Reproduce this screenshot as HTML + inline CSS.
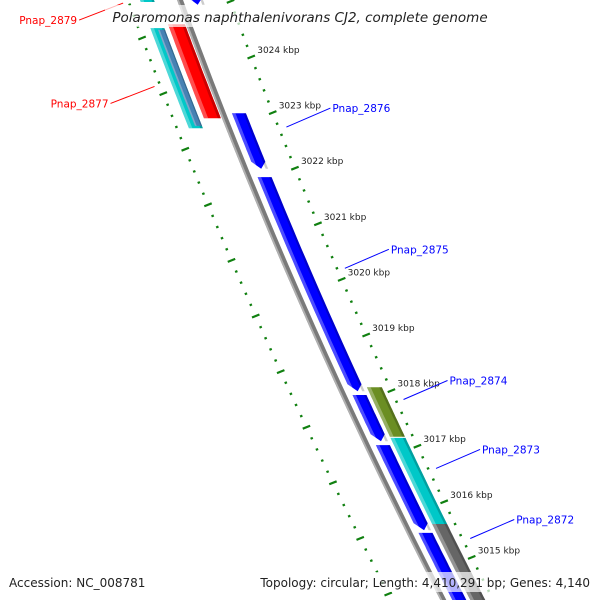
<!DOCTYPE html>
<html><head><meta charset="utf-8"><style>
html,body{margin:0;padding:0;background:#fff;width:600px;height:600px;overflow:hidden}
svg{display:block}
text{font-family:"DejaVu Sans","Liberation Sans",sans-serif}
</style></head><body>
<svg id="map" width="600" height="600" viewBox="0 0 600 600" xmlns="http://www.w3.org/2000/svg">
<g id="ticks"></g>
<g id="backbone"></g>
<g id="genes"></g>
<g id="labels"></g>
<rect x="105" y="5" width="392" height="22" fill="#fff" opacity="0.7"/>
<text x="300" y="22" text-anchor="middle" font-size="13.5" font-style="italic" fill="#222">Polaromonas naphthalenivorans CJ2, complete genome</text>
<rect x="0" y="572" width="600" height="20" fill="#fff" opacity="0.7"/>
<text x="9" y="587" font-size="12" fill="#222">Accession: NC_008781</text>
<text x="590" y="587" text-anchor="end" font-size="12" fill="#222">Topology: circular; Length: 4,410,291 bp; Genes: 4,140</text>
</svg>
<script>
// data
const geneNames = ["top-blue","Pnap_2876","Pnap_2875","Pnap_2874","Pnap_2873","Pnap_2872","olive","cyan","gray","Pnap_2877-red","Pnap_2877-cyan","Pnap_2877-steel","Pnap_2879"];
const geneStart = [3025.56,3022.99,3021.84,3017.92,3017.02,3015.44,3018.06,3017.15,3015.6,3024.59,3024.52,3024.49,3025.38];
const geneEnd   = [3024.94,3021.99,3017.99,3017.09,3015.49,3013.5,3017.17,3015.6,3013.5,3022.90,3022.72,3022.76,3024.99];
const geneTrack = ["T1","T1","T1","T1","T1","T1","T2","T2","T2","L1","L2","L2b","L2"];
const geneColor = ["#0000ff","#0000ff","#0000ff","#0000ff","#0000ff","#0000ff","#6b8e23","#00c8c8","#666666","#ff0000","#00c8c8","#4682b4","#00c8c8"];
const geneArrow = [1,1,1,1,1,1,0,0,0,0,0,0,0];
const tickKbp = [3025,3024,3023,3022,3021,3020,3019,3018,3017,3016,3015,3014];
const labelNames = ["Pnap_2876","Pnap_2875","Pnap_2874","Pnap_2873","Pnap_2872","Pnap_2877","Pnap_2879"];
const labelKbp = [3022.74,3020.2,3017.84,3016.6,3015.34,3023.47,3024.97];
const labelSide = [1,1,1,1,1,-1,-1];

// axis functions
const NS="http://www.w3.org/2000/svg";
function yOf(k){return 57+(3024-k)*55.6;}
function bx(y){return 180+0.3656*y+1.22e-4*y*y;}
const tracks={T1:[9,23],T2:[27,42],L1:[-21,-4],L2:[-40,-26],L2b:[-33,-26]};
function mk(tag,attrs,parent){const e=document.createElementNS(NS,tag);for(const k in attrs)e.setAttribute(k,attrs[k]);parent.appendChild(e);return e;}
function band(y1,y2,o1,o2,arrow){
  const pts=[];const n=20;const ye=arrow?y2-7:y2;
  for(let i=0;i<=n;i++){const y=y1+(ye-y1)*i/n;pts.push([bx(y)+o1,y]);}
  if(arrow){const ym=y2;pts.push([bx(ym)+(o1+o2)/2,ym]);}
  for(let i=n;i>=0;i--){const y=y1+(ye-y1)*i/n;pts.push([bx(y)+o2,y]);}
  return pts.map(p=>p[0].toFixed(1)+","+p[1].toFixed(1)).join(" ");
}
// backbone
const bb=document.getElementById('backbone');
let e=mk('polygon',{points:band(-10,600,-3,3,0),fill:'#7a7a7a'},bb);


e=mk('polygon',{points:band(-10,600,-3,-1,0),fill:'#b0b0b0'},bb);


// genes
const gg=document.getElementById('genes');
for(let i=0;i<geneNames.length;i++){
  const t=tracks[geneTrack[i]];const y1=yOf(geneStart[i]),y2=Math.min(yOf(geneEnd[i]),600);
  const g=mk('g',{},gg);
  
  
  mk('polygon',{points:band(y1,y2,t[0],t[1],geneArrow[i]&&y2<600),fill:geneColor[i]},g);
  const w=t[1]-t[0];
  mk('polygon',{points:band(y1,y2,t[0],t[0]+w*0.25,0),fill:'#fff',opacity:0.3},g);
  mk('polygon',{points:band(y1,y2,t[1]-w*0.18,t[1],0),fill:'#000',opacity:0.2},g);
}
// ticks
const tg=document.getElementById('ticks');
const ux=1/Math.sqrt(1+0.16),uy=-0.4/Math.sqrt(1+0.16);
function tick(x,y,len,w,name){
  const l=mk('line',{x1:x-ux*len/2,y1:y-uy*len/2,x2:x+ux*len/2,y2:y+uy*len/2,stroke:'#108010','stroke-width':w},tg);
  
  
}
for(let k=3026;k>=3013.4;k-=0.2){
  const major=Math.abs(k-Math.round(k))<0.01;
  const y=yOf(k);
  if(y<595) tick(bx(y)+50,y,major?8:2.5,2.2,major?'outer-major-tick':'outer-minor-tick');
  const yi=y-19;
  if(yi<595) tick(bx(yi)-52,yi,major?8:2.5,2.2,major?'inner-major-tick':'inner-minor-tick');
}
for(let i=0;i<tickKbp.length;i++){
  const y=yOf(tickKbp[i]);const x=bx(y)+50;
  const t=mk('text',{x:x+6,y:y-4,'font-size':9,fill:'#222'},tg);
  t.textContent=tickKbp[i]+' kbp';
  
  
}
// labels
const lg=document.getElementById('labels');
for(let i=0;i<labelNames.length;i++){
  const y=yOf(labelKbp[i]);const s=labelSide[i];
  const x0=bx(y)+s*58;const col=s>0?'#0000ff':'#ff0000';
  const x1=x0+s*44,y1=y+(s>0?-19:17);
  const l=mk('line',{x1:x0,y1:y,x2:x1,y2:y1,stroke:col,'stroke-width':1},lg);
  
  
  const t=mk('text',{x:x1+s*2,y:y1+4,'font-size':10.5,fill:col,'text-anchor':s>0?'start':'end'},lg);
  t.textContent=labelNames[i];
  
  
}
</script>
</body></html>
